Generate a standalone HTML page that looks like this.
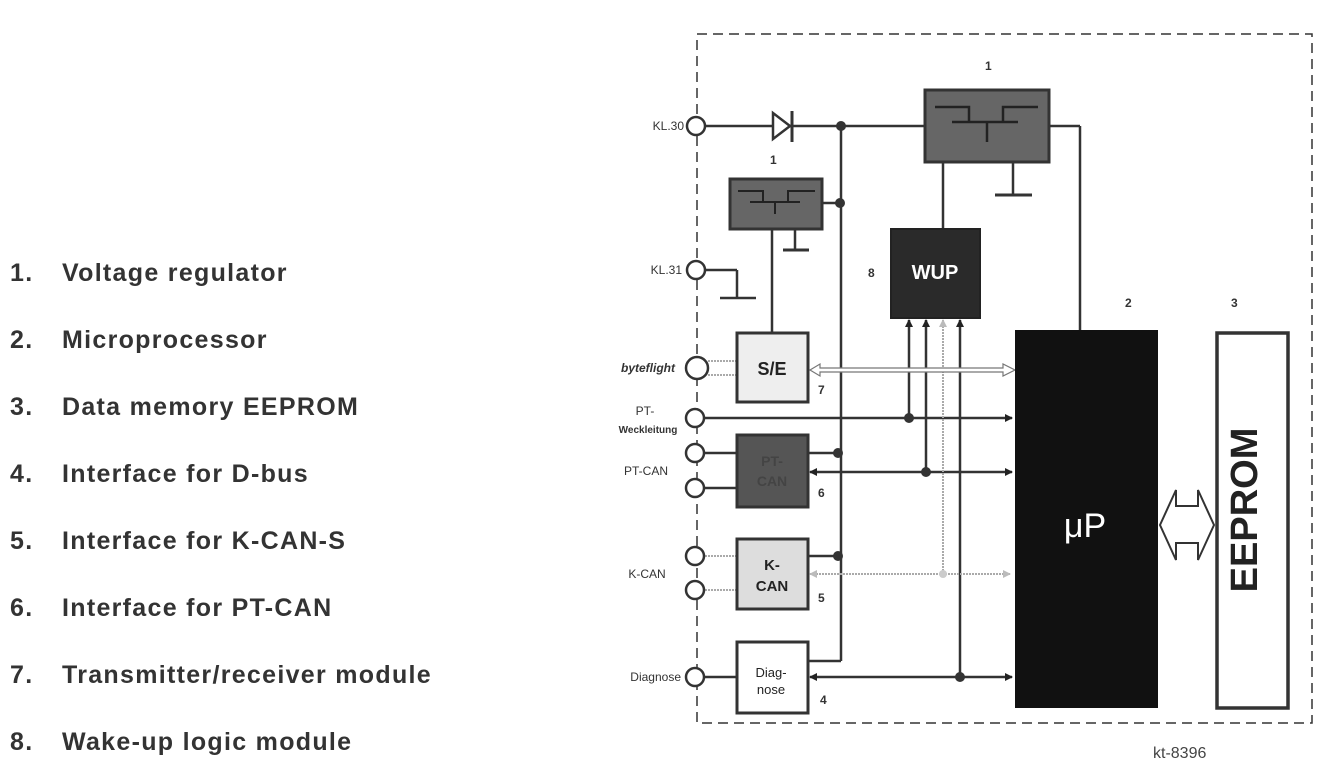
<!DOCTYPE html>
<html><head><meta charset="utf-8"><style>
html,body{margin:0;padding:0;background:#fff;}
svg{display:block;font-family:"Liberation Sans",sans-serif;}
</style></head><body>
<svg width="1325" height="775" viewBox="0 0 1325 775" xmlns="http://www.w3.org/2000/svg">
<defs>
<marker id="a" markerWidth="8" markerHeight="8" refX="7" refY="4" orient="auto-start-reverse" markerUnits="userSpaceOnUse"><path d="M0,0 L8,4 L0,8 Z" fill="#222"/></marker>
<marker id="ag" markerWidth="8" markerHeight="8" refX="7" refY="4" orient="auto-start-reverse" markerUnits="userSpaceOnUse"><path d="M0,0 L8,4 L0,8 Z" fill="#bbb"/></marker>
</defs>
<!-- left list -->
<g font-weight="bold" font-size="25" fill="#333" letter-spacing="1.3">
<text x="10" y="281">1.</text><text x="62" y="281">Voltage regulator</text>
<text x="10" y="348">2.</text><text x="62" y="348">Microprocessor</text>
<text x="10" y="415">3.</text><text x="62" y="415">Data memory EEPROM</text>
<text x="10" y="482">4.</text><text x="62" y="482">Interface for D-bus</text>
<text x="10" y="549">5.</text><text x="62" y="549">Interface for K-CAN-S</text>
<text x="10" y="616">6.</text><text x="62" y="616">Interface for PT-CAN</text>
<text x="10" y="683">7.</text><text x="62" y="683">Transmitter/receiver module</text>
<text x="10" y="750">8.</text><text x="62" y="750">Wake-up logic module</text>
</g>
<!-- dashed border -->
<rect x="697" y="34" width="615" height="689" fill="none" stroke="#333" stroke-width="1.5" stroke-dasharray="10,6"/>

<g stroke="#333" stroke-width="2.5" fill="none">
<line x1="705" y1="126" x2="925" y2="126"/>
<line x1="1049" y1="126" x2="1080" y2="126"/><line x1="1080" y1="126" x2="1080" y2="330"/>
<line x1="1013" y1="162" x2="1013" y2="195"/><line x1="995" y1="195" x2="1032" y2="195" stroke-width="3"/>
<line x1="943" y1="162" x2="943" y2="229"/>
<line x1="841" y1="126" x2="841" y2="661"/>
<line x1="808" y1="661" x2="841" y2="661"/>
<line x1="822" y1="203" x2="841" y2="203"/>
<line x1="795" y1="229" x2="795" y2="250"/><line x1="783" y1="250" x2="809" y2="250" stroke-width="3"/>
<line x1="772" y1="229" x2="772" y2="333"/>
<line x1="705" y1="270" x2="737" y2="270"/><line x1="737" y1="270" x2="737" y2="298"/><line x1="720" y1="298" x2="756" y2="298"/>
<line x1="705" y1="418" x2="1012" y2="418" marker-end="url(#a)"/>
<line x1="909" y1="418" x2="909" y2="320" marker-end="url(#a)"/>
<line x1="705" y1="453" x2="737" y2="453"/><line x1="705" y1="488" x2="737" y2="488"/>
<line x1="808" y1="453" x2="841" y2="453"/>
<line x1="810" y1="472" x2="1012" y2="472" marker-start="url(#a)" marker-end="url(#a)"/>
<line x1="926" y1="472" x2="926" y2="320" marker-end="url(#a)"/>
<line x1="808" y1="556" x2="841" y2="556"/>
<line x1="705" y1="677" x2="737" y2="677"/>
<line x1="810" y1="677" x2="1012" y2="677" marker-start="url(#a)" marker-end="url(#a)"/>
<line x1="960" y1="677" x2="960" y2="320" marker-end="url(#a)"/>
</g>
<g stroke="#aaa" stroke-width="2" fill="none" stroke-dasharray="2,1">
<line x1="705" y1="556" x2="737" y2="556"/><line x1="705" y1="590" x2="737" y2="590"/>
<line x1="810" y1="574" x2="1010" y2="574" marker-start="url(#ag)" marker-end="url(#ag)"/>
<line x1="943" y1="574" x2="943" y2="320" marker-end="url(#ag)"/>
<line x1="708" y1="361" x2="737" y2="361"/><line x1="708" y1="375" x2="737" y2="375"/>
</g>
<path d="M810,370 L820,364 L820,368 L1003,368 L1003,364 L1015,370 L1003,376 L1003,372 L820,372 L820,376 Z" fill="#fff" stroke="#777" stroke-width="1.2"/>
<path d="M773,113 L773,139 L790,126 Z" fill="#fff" stroke="#333" stroke-width="2.5"/>
<line x1="792" y1="111" x2="792" y2="142" stroke="#333" stroke-width="3"/>
<g fill="#333">
<circle cx="841" cy="126" r="5"/><circle cx="840" cy="203" r="5"/><circle cx="909" cy="418" r="5"/>
<circle cx="838" cy="453" r="5"/><circle cx="926" cy="472" r="5"/><circle cx="838" cy="556" r="5"/>
<circle cx="960" cy="677" r="5"/>
</g>
<circle cx="943" cy="574" r="4" fill="#ccc"/>
<g fill="#fff" stroke="#333" stroke-width="2.5">
<circle cx="696" cy="126" r="9"/><circle cx="696" cy="270" r="9"/><circle cx="697" cy="368" r="11"/>
<circle cx="695" cy="418" r="9"/><circle cx="695" cy="453" r="9"/><circle cx="695" cy="488" r="9"/>
<circle cx="695" cy="556" r="9"/><circle cx="695" cy="590" r="9"/><circle cx="695" cy="677" r="9"/>
</g>
<rect x="925" y="90" width="124" height="72" fill="#666" stroke="#333" stroke-width="3"/>
<g stroke="#222" stroke-width="2.5" fill="none">
<path d="M935,107 L969,107 L969,121"/><path d="M952,122 L1018,122"/><path d="M1003,122 L1003,107 L1038,107"/><path d="M987,122 L987,142"/>
</g>
<rect x="730" y="179" width="92" height="50" fill="#666" stroke="#333" stroke-width="3"/>
<g stroke="#222" stroke-width="2" fill="none">
<path d="M738,191 L763,191 L763,201"/><path d="M750,202 L800,202"/><path d="M788,202 L788,191 L815,191"/><path d="M775,202 L775,214"/>
</g>
<rect x="891" y="229" width="89" height="89" fill="#2a2a2a" stroke="#222" stroke-width="2"/>
<text x="935" y="279" font-size="20" font-weight="bold" fill="#fff" text-anchor="middle">WUP</text>
<rect x="737" y="333" width="71" height="69" fill="#eee" stroke="#333" stroke-width="3"/>
<text x="772" y="375" font-size="18" font-weight="bold" fill="#222" text-anchor="middle">S/E</text>
<rect x="737" y="435" width="71" height="72" fill="#555" stroke="#333" stroke-width="3"/>
<text x="772" y="466" font-size="14" font-weight="bold" fill="#444" text-anchor="middle">PT-</text>
<text x="772" y="486" font-size="14" font-weight="bold" fill="#444" text-anchor="middle">CAN</text>
<rect x="737" y="539" width="71" height="70" fill="#ddd" stroke="#333" stroke-width="3"/>
<text x="772" y="570" font-size="15" font-weight="bold" fill="#222" text-anchor="middle">K-</text>
<text x="772" y="591" font-size="15" font-weight="bold" fill="#222" text-anchor="middle">CAN</text>
<rect x="737" y="642" width="71" height="71" fill="#fff" stroke="#333" stroke-width="3"/>
<text x="771" y="677" font-size="13" fill="#222" text-anchor="middle">Diag-</text>
<text x="771" y="694" font-size="13" fill="#222" text-anchor="middle">nose</text>
<rect x="1015" y="330" width="143" height="378" fill="#111"/>
<text x="1085" y="537" font-size="34" fill="#fff" text-anchor="middle">μP</text>
<rect x="1217" y="333" width="71" height="375" fill="#fff" stroke="#333" stroke-width="3.5"/>
<text transform="translate(1257,510) rotate(-90)" font-size="38" font-weight="bold" fill="#222" text-anchor="middle">EEPROM</text>
<path d="M1160,525 L1176,490 L1176,506 L1198,506 L1198,490 L1214,525 L1198,560 L1198,543 L1176,543 L1176,560 Z" fill="#fff" stroke="#333" stroke-width="2"/>
<g font-size="12" fill="#333">
<text x="684" y="130" text-anchor="end">KL.30</text>
<text x="682" y="274" text-anchor="end">KL.31</text>
<text x="675" y="372" text-anchor="end" font-style="italic" font-weight="bold">byteflight</text>
<text x="645" y="415" text-anchor="middle">PT-</text>
<text x="648" y="433" text-anchor="middle" font-size="10" font-weight="bold">Weckleitung</text>
<text x="646" y="475" text-anchor="middle">PT-CAN</text>
<text x="647" y="578" text-anchor="middle">K-CAN</text>
<text x="681" y="681" text-anchor="end">Diagnose</text>
</g>
<g font-size="12" font-weight="bold" fill="#333">
<text x="985" y="70">1</text><text x="770" y="164">1</text><text x="868" y="277">8</text>
<text x="818" y="394">7</text><text x="818" y="497">6</text><text x="818" y="602">5</text><text x="820" y="704">4</text>
<text x="1125" y="307">2</text><text x="1231" y="307">3</text>
</g>
<text x="1153" y="758" font-size="16" fill="#444">kt-8396</text>
</svg>
</body></html>
